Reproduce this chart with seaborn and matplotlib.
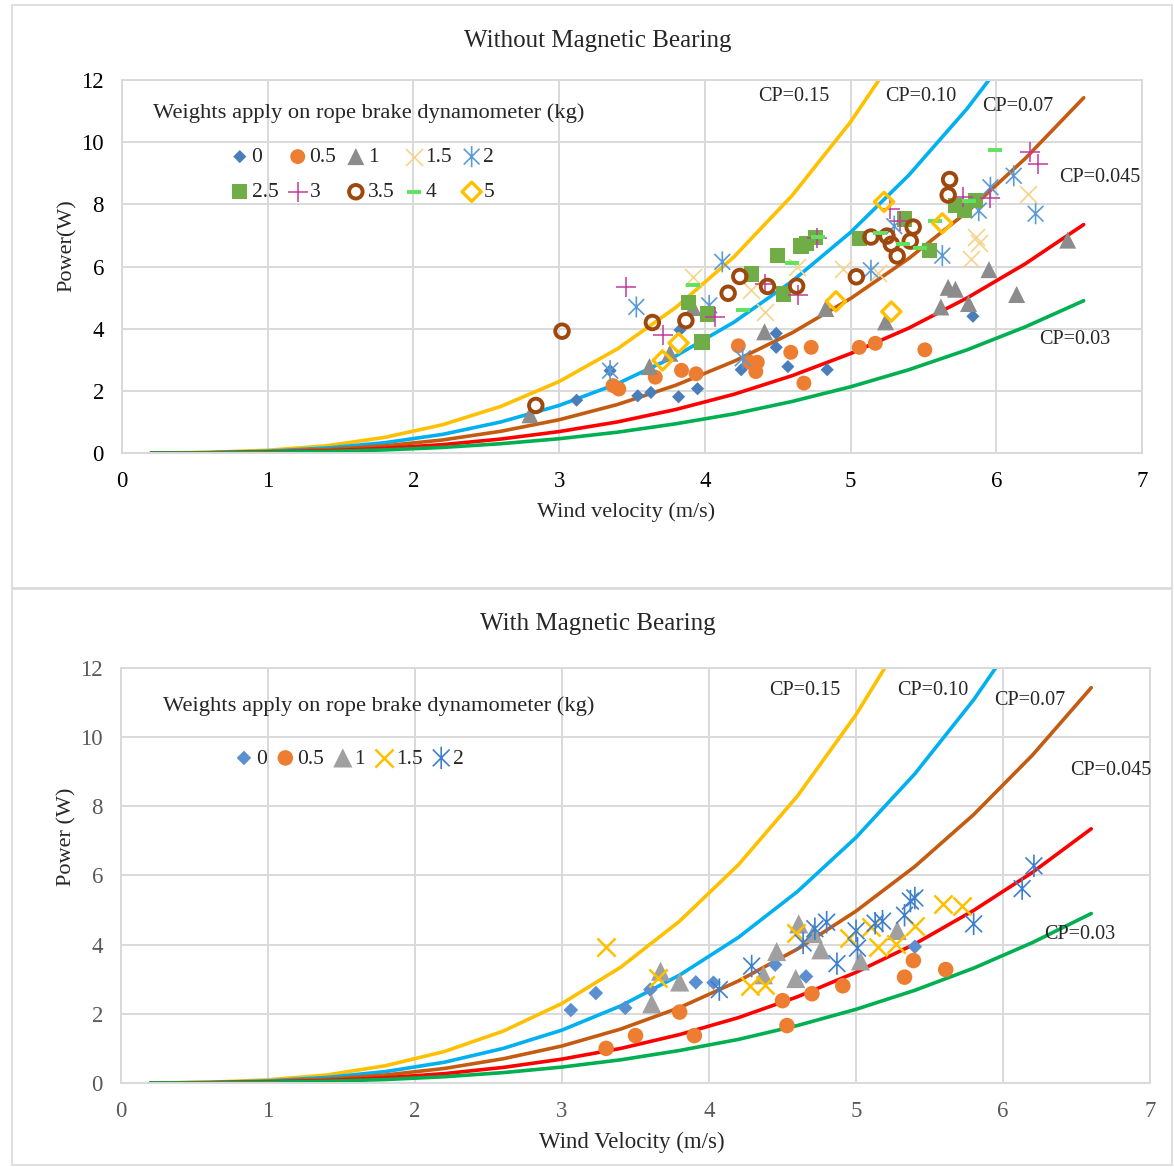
import matplotlib
matplotlib.use("Agg")
import matplotlib.pyplot as plt
from matplotlib.path import Path
from matplotlib.patches import Rectangle
import numpy as np
import pandas as pd
import seaborn as sns

# ---- theoretical power curves ----
velocity = [0.2, 0.6, 1.0, 1.4, 1.8, 2.2, 2.6, 3.0, 3.4, 3.8, 4.2, 4.6, 5.0, 5.4, 5.8, 6.2, 6.6]
cp_015 = [0.00, 0.02, 0.09, 0.23, 0.50, 0.91, 1.50, 2.30, 3.35, 4.68, 6.31, 8.29, 10.65, 13.42]
cp_010 = [0.00, 0.01, 0.06, 0.16, 0.33, 0.60, 1.00, 1.53, 2.23, 3.12, 4.21, 5.53, 7.10, 8.94, 11.08, 13.54]
cp_007 = [0.00, 0.01, 0.04, 0.11, 0.23, 0.42, 0.70, 1.07, 1.56, 2.18, 2.95, 3.87, 4.97, 6.26, 7.76, 9.48, 11.43]
cp_0045 = [0.00, 0.01, 0.03, 0.07, 0.15, 0.27, 0.45, 0.69, 1.00, 1.40, 1.89, 2.49, 3.20, 4.02, 4.99, 6.09, 7.35]
cp_003 = [0.00, 0.00, 0.02, 0.05, 0.10, 0.18, 0.30, 0.46, 0.67, 0.94, 1.26, 1.66, 2.13, 2.68, 3.32, 4.06, 4.90]
curve_names = ["CP=0.15", "CP=0.10", "CP=0.07", "CP=0.045", "CP=0.03"]

# ---- without magnetic bearing: weight (kg) -> wind velocity / power ----
top_v_0 = [3.12, 3.35, 3.54, 3.63, 3.82, 3.83, 3.95, 4.25, 4.49, 4.49, 4.57, 4.84, 5.84]
top_p_0 = [1.70, 2.65, 1.84, 1.95, 1.81, 3.96, 2.07, 2.68, 3.40, 3.85, 2.78, 2.68, 4.40]
top_v_05 = [3.37, 3.41, 3.66, 3.84, 3.94, 4.23, 4.31, 4.35, 4.36, 4.59, 4.73, 4.68, 5.06, 5.17, 5.51]
top_p_05 = [2.17, 2.06, 2.44, 2.66, 2.55, 3.45, 2.92, 2.62, 2.92, 3.24, 3.40, 2.25, 3.40, 3.53, 3.32]
top_v_1 = [2.80, 3.62, 3.76, 3.92, 4.41, 4.83, 5.24, 5.62, 5.67, 5.72, 5.81, 5.95, 6.14, 6.49]
top_p_1 = [1.23, 2.78, 3.21, 4.68, 3.90, 4.65, 4.22, 4.70, 5.33, 5.27, 4.81, 5.90, 5.10, 6.85]
top_v_15 = [3.92, 4.32, 4.41, 4.63, 4.95, 5.19, 5.83, 5.86, 5.88, 6.22]
top_p_15 = [5.65, 5.25, 4.55, 5.97, 5.91, 5.80, 6.24, 6.95, 6.75, 8.32]
top_v_2 = [3.35, 3.53, 4.03, 4.12, 4.26, 5.14, 5.30, 5.63, 5.88, 5.96, 6.12, 6.27]
top_p_2 = [2.65, 4.70, 4.75, 6.15, 3.05, 5.88, 7.30, 6.35, 7.80, 8.55, 8.92, 7.70]
top_v_25 = [3.89, 3.98, 4.02, 4.32, 4.50, 4.54, 4.66, 4.70, 4.76, 5.06, 5.37, 5.54, 5.72, 5.78, 5.86]
top_p_25 = [4.84, 3.57, 4.47, 5.76, 6.35, 5.12, 6.66, 6.75, 6.93, 6.90, 7.53, 6.51, 7.97, 7.80, 8.12]
top_v_3 = [3.46, 3.71, 4.07, 4.41, 4.64, 4.77, 5.27, 5.34, 5.77, 5.96, 6.23, 6.29]
top_p_3 = [5.34, 3.80, 4.37, 5.45, 5.10, 6.92, 7.85, 7.45, 8.25, 8.20, 9.70, 9.30]
top_v_35 = [2.84, 3.02, 3.64, 3.87, 4.16, 4.24, 4.43, 4.63, 5.04, 5.14, 5.25, 5.28, 5.32, 5.41, 5.43, 5.67, 5.68]
top_p_35 = [1.53, 3.92, 4.20, 4.26, 5.14, 5.68, 5.36, 5.37, 5.67, 6.95, 6.98, 6.72, 6.34, 6.82, 7.27, 8.30, 8.80]
top_v_4 = [3.92, 4.26, 4.60, 4.78, 5.20, 5.36, 5.48, 5.58, 5.81, 5.99]
top_p_4 = [5.40, 4.61, 6.10, 6.94, 7.08, 6.71, 6.61, 7.48, 8.10, 9.75]
top_v_5 = [3.71, 3.82, 4.90, 5.23, 5.28, 5.63]
top_p_5 = [2.98, 3.54, 4.88, 8.08, 4.55, 7.39]

# ---- with magnetic bearing ----
bot_v_0 = [3.06, 3.23, 3.43, 3.60, 3.91, 4.03, 4.45, 4.66, 5.40]
bot_p_0 = [2.11, 2.60, 2.17, 2.70, 2.91, 2.90, 3.42, 3.08, 3.94]
bot_v_05 = [3.30, 3.50, 3.80, 3.90, 4.50, 4.53, 4.70, 4.91, 5.33, 5.39, 5.61]
bot_p_05 = [1.00, 1.37, 2.05, 1.37, 2.38, 1.66, 2.58, 2.81, 3.06, 3.54, 3.28]
bot_v_1 = [3.61, 3.67, 3.80, 4.37, 4.46, 4.59, 4.61, 4.71, 4.76, 5.03, 5.28]
bot_p_1 = [2.29, 3.23, 2.92, 3.13, 3.80, 3.02, 4.60, 4.32, 3.85, 3.53, 4.41]
bot_v_15 = [3.30, 3.65, 4.28, 4.38, 4.59, 4.95, 5.10, 5.15, 5.27, 5.40, 5.59, 5.72]
bot_p_15 = [3.93, 3.03, 2.81, 2.83, 4.34, 4.18, 4.52, 3.92, 4.02, 4.55, 5.18, 5.13]
bot_v_2 = [4.07, 4.29, 4.64, 4.72, 4.80, 4.87, 5.00, 5.01, 5.13, 5.18, 5.33, 5.37, 5.40, 5.80, 6.13, 6.21]
bot_p_2 = [2.70, 3.38, 4.05, 4.46, 4.65, 3.45, 4.40, 3.90, 4.62, 4.68, 4.85, 5.26, 5.35, 4.60, 5.62, 6.28]

curve_colors = ["#FFC000", "#00B0F0", "#C55A11", "#FF0000", "#00B050"]
legend_title = "Weights apply on rope brake dynamometer (kg)"

# asterisk marker like Excel's star
star = Path([(0, -1), (0, 1), (-0.75, -0.75), (0.75, 0.75), (-0.75, 0.75), (0.75, -0.75)],
            [Path.MOVETO, Path.LINETO] * 3)

sns.set_theme(style="white")
plt.rcParams["font.family"] = ["Liberation Serif", "DejaVu Serif"]

fig = plt.figure(figsize=(11.74, 11.67), dpi=100)
ax1 = fig.add_axes([0.1039, 0.6118, 0.8688, 0.3196])
ax2 = fig.add_axes([0.1031, 0.0720, 0.8765, 0.3556])

# panel borders
for y0, h in [(0.4961, 0.4996), (0.0017, 0.4936)]:
    fig.add_artist(Rectangle((0.0102, y0), 0.988, h, transform=fig.transFigure,
                             fill=False, edgecolor="#D9D9D9", lw=1.2))


def draw_curves(ax):
    for vals, col in zip([cp_015, cp_010, cp_007, cp_0045, cp_003], curve_colors):
        sns.lineplot(x=velocity[:len(vals)], y=vals, color=col, lw=2.6, ax=ax,
                     sort=False, estimator=None, zorder=2)


def add_points(ax, v, p, marker, color, s, kind="filled", lw=1.3):
    if kind == "filled":
        sns.scatterplot(x=v, y=p, marker=marker, s=s, color=color, edgecolor="none",
                        linewidth=0, ax=ax, zorder=3)
    elif kind == "hollow":
        sns.scatterplot(x=v, y=p, marker=marker, s=s, facecolor="none", edgecolor=color,
                        linewidth=lw, ax=ax, zorder=3)
    else:
        sns.scatterplot(x=v, y=p, marker=marker, s=s, color=color, linewidth=lw,
                        ax=ax, zorder=3)
    return ax.collections[-1]


def style_axes(ax, tick_color):
    ax.set_xlim(0, 7)
    ax.set_ylim(0, 12)
    ax.set_xticks(range(0, 8))
    ax.set_yticks(range(0, 13, 2))
    ax.grid(True, color="#D9D9D9", lw=1.4)
    for sp in ax.spines.values():
        sp.set_color("#D9D9D9")
        sp.set_linewidth(1.4)
    ax.tick_params(length=0, labelsize=16.5, colors=tick_color, pad=13)
    ax.set_axisbelow(True)


# ---------------- top chart ----------------
draw_curves(ax1)
h = []
h.append(add_points(ax1, top_v_0, top_p_0, "D", "#4A7EBB", 45))
h.append(add_points(ax1, top_v_05, top_p_05, "o", "#ED7D31", 115))
h.append(add_points(ax1, top_v_1, top_p_1, "^", "#8C8C8C", 150))
h.append(add_points(ax1, top_v_15, top_p_15, "x", "#F7D389", 150, kind="line", lw=1.2))
h.append(add_points(ax1, top_v_2, top_p_2, star, "#5B9BD5", 230, kind="hollow", lw=1.2))
h.append(add_points(ax1, top_v_25, top_p_25, "s", "#70AD47", 120))
h.append(add_points(ax1, top_v_3, top_p_3, "+", "#C2399F", 190, kind="line", lw=1.1))
h.append(add_points(ax1, top_v_35, top_p_35, "o", "#9E480E", 95, kind="hollow", lw=2.8))
h.append(add_points(ax1, top_v_4, top_p_4, "_", "#5FE35F", 110, kind="line", lw=2.8))
h.append(add_points(ax1, top_v_5, top_p_5, "D", "#FFC000", 95, kind="hollow", lw=2.4))
labels = ["0", "0.5", "1", "1.5", "2", "2.5", "3", "3.5", "4", "5"]
order = [0, 5, 1, 6, 2, 7, 3, 8, 4, 9]
ax1.legend([h[i] for i in order], [labels[i] for i in order], ncol=5, frameon=False,
           loc="upper left", bbox_to_anchor=(0.106, 0.82), borderaxespad=0, borderpad=0,
           handletextpad=0.1, columnspacing=0.45, handlelength=0.9, labelspacing=0.7,
           fontsize=15.5)
ax1.text(1.69, 10.95, legend_title, ha="center", va="center", fontsize=16.2)
style_axes(ax1, "black")
ax1.set_xlabel("Wind velocity (m/s)", fontsize=16)
ax1.set_ylabel("Power(W)", fontsize=16)
ax1.xaxis.set_label_coords(0.494, -0.132)
ax1.yaxis.set_label_coords(-0.044, 0.555)
top_label_pos = [(4.61, 11.48), (5.48, 11.48), (6.15, 11.16), (6.71, 8.87), (6.54, 3.65)]
for name, (x, y) in zip(curve_names, top_label_pos):
    ax1.text(x, y, name, ha="center", va="center", fontsize=14.5, clip_on=False)
fig.text(0.509, 0.9645, "Without Magnetic Bearing", ha="center", va="center", fontsize=18)

# ---------------- bottom chart ----------------
draw_curves(ax2)
g = []
g.append(add_points(ax2, bot_v_0, bot_p_0, "D", "#5B8FD0", 55))
g.append(add_points(ax2, bot_v_05, bot_p_05, "o", "#ED7D31", 125))
g.append(add_points(ax2, bot_v_1, bot_p_1, "^", "#A0A0A0", 190))
g.append(add_points(ax2, bot_v_15, bot_p_15, "x", "#FFC000", 170, kind="line", lw=1.8))
g.append(add_points(ax2, bot_v_2, bot_p_2, star, "#3D7FCC", 260, kind="hollow", lw=1.2))
ax2.legend(g, labels[:5], ncol=5, frameon=False, loc="upper left",
           bbox_to_anchor=(0.11, 0.806), borderaxespad=0, borderpad=0,
           handletextpad=0.1, columnspacing=0.42, handlelength=0.9, fontsize=15.5)
ax2.text(1.755, 10.9, legend_title, ha="center", va="center", fontsize=16.2)
style_axes(ax2, "#595959")
ax2.set_xlabel("Wind Velocity (m/s)", fontsize=16.5)
ax2.set_ylabel("Power (W)", fontsize=16)
ax2.xaxis.set_label_coords(0.496, -0.118)
ax2.yaxis.set_label_coords(-0.043, 0.593)
bot_label_pos = [(4.65, 11.36), (5.52, 11.36), (6.18, 11.07), (6.73, 9.05), (6.52, 4.28)]
for name, (x, y) in zip(curve_names, bot_label_pos):
    ax2.text(x, y, name, ha="center", va="center", fontsize=14.5, clip_on=False)
fig.text(0.509, 0.4655, "With Magnetic Bearing", ha="center", va="center", fontsize=18)

fig.savefig("out.png", dpi=100)
